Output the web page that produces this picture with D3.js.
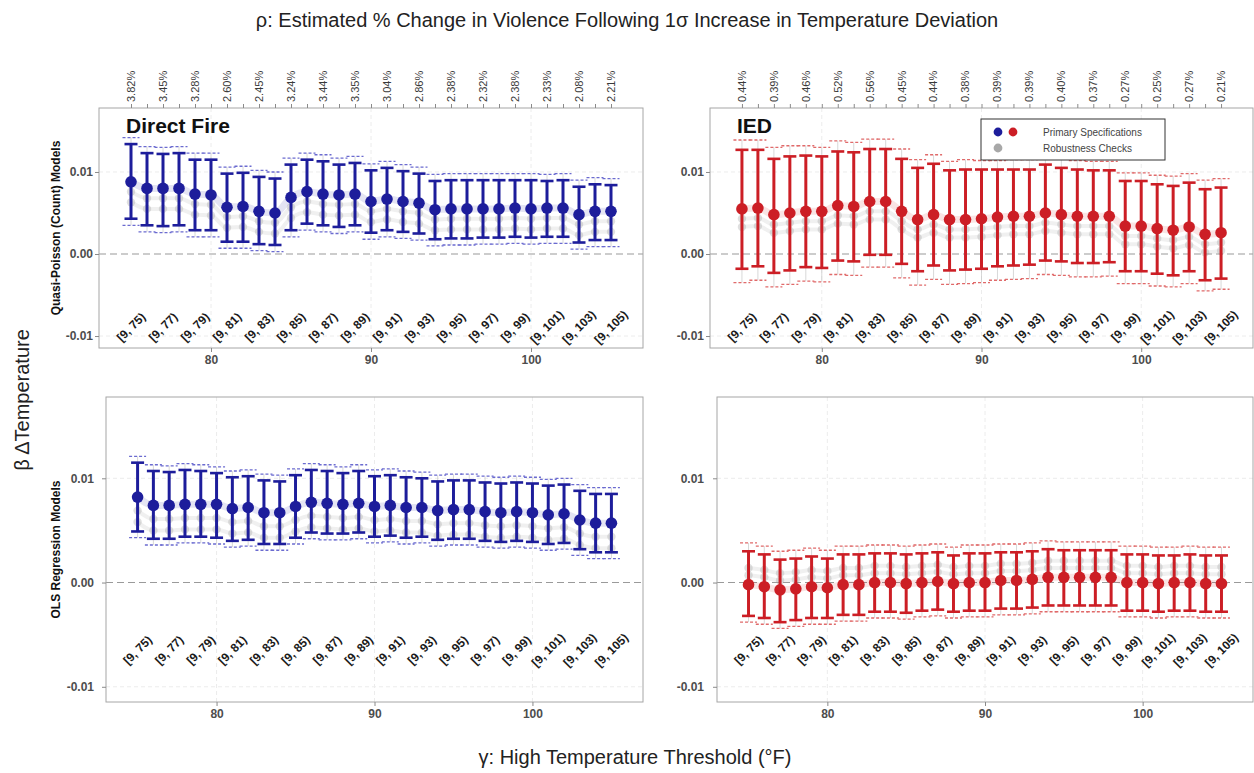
<!DOCTYPE html>
<html>
<head>
<meta charset="utf-8">
<script src="https://cdn.jsdelivr.net/npm/d3@7"></script>
<style>
  body { margin: 0; background: #fff; }
  text { font-family: "Liberation Sans", Arial, sans-serif; }
</style>
</head>
<body>
<svg id="chart" width="1254" height="773"></svg>
<script>
// thresholds (°F) and the bins they label
const thresholds = [75,76,77,78,79,80,81,82,83,84,85,86,87,88,89,90,91,92,93,94,95,96,97,98,99,100,101,102,103,104,105]
const labelThresholds = [75,77,79,81,83,85,87,89,91,93,95,97,99,101,103,105]
const binLabels = ["[9, 75)","[9, 77)","[9, 79)","[9, 81)","[9, 83)","[9, 85)","[9, 87)","[9, 89)","[9, 91)","[9, 93)","[9, 95)","[9, 97)","[9, 99)","[9, 101)","[9, 103)","[9, 105)"]
const rhoDirectFire = ["3.82%","3.45%","3.28%","2.60%","2.45%","3.24%","3.44%","3.35%","3.04%","2.86%","2.38%","2.32%","2.38%","2.33%","2.08%","2.21%"]
const rhoIED = ["0.44%","0.39%","0.46%","0.52%","0.56%","0.45%","0.44%","0.38%","0.39%","0.39%","0.40%","0.37%","0.27%","0.25%","0.27%","0.21%"]
const xTicks = [80, 90, 100]
const yTicks = [-0.01, 0, 0.01]

// Direct Fire, quasi-poisson
const dfQpEst = [0.0088,0.0080,0.0080,0.0080,0.0073,0.0072,0.0057,0.0058,0.0052,0.0050,0.0069,0.0076,0.0073,0.0072,0.0073,0.0064,0.0067,0.0064,0.0062,0.0054,0.0055,0.0055,0.0055,0.0055,0.0056,0.0055,0.0056,0.0056,0.0048,0.0052,0.0052]
const dfQpHi = [0.0134,0.0123,0.0122,0.0123,0.0115,0.0115,0.0098,0.0099,0.0094,0.0092,0.0109,0.0115,0.0113,0.0109,0.0111,0.0102,0.0105,0.0101,0.0098,0.0089,0.0090,0.0090,0.0090,0.0090,0.0090,0.0090,0.0089,0.0090,0.0082,0.0085,0.0084]
const dfQpLo = [0.0043,0.0035,0.0034,0.0035,0.0029,0.0029,0.0015,0.0015,0.0012,0.0011,0.0029,0.0037,0.0035,0.0033,0.0035,0.0026,0.0029,0.0027,0.0025,0.0018,0.0019,0.0019,0.0020,0.0020,0.0021,0.0020,0.0021,0.0021,0.0014,0.0017,0.0017]
const dfQpRobHi = [0.0142,0.0131,0.0130,0.0131,0.0123,0.0123,0.0106,0.0107,0.0102,0.0100,0.0117,0.0123,0.0121,0.0117,0.0119,0.0110,0.0113,0.0109,0.0106,0.0097,0.0098,0.0098,0.0098,0.0098,0.0098,0.0098,0.0097,0.0098,0.0090,0.0093,0.0092]
const dfQpRobLo = [0.0035,0.0027,0.0026,0.0027,0.0021,0.0021,0.0007,0.0007,0.0004,0.0003,0.0021,0.0029,0.0027,0.0025,0.0027,0.0018,0.0021,0.0019,0.0017,0.0010,0.0011,0.0011,0.0012,0.0012,0.0013,0.0012,0.0013,0.0013,0.0006,0.0009,0.0009]
const dfQpRobA = [0.0076,0.0068,0.0068,0.0068,0.0061,0.0060,0.0045,0.0046,0.0040,0.0038,0.0057,0.0064,0.0061,0.0060,0.0061,0.0052,0.0055,0.0052,0.0050,0.0042,0.0043,0.0043,0.0043,0.0043,0.0044,0.0043,0.0044,0.0044,0.0036,0.0040,0.0040]
const dfQpRobB = [0.0063,0.0055,0.0055,0.0055,0.0048,0.0047,0.0032,0.0033,0.0027,0.0025,0.0044,0.0051,0.0048,0.0047,0.0048,0.0039,0.0042,0.0039,0.0037,0.0029,0.0030,0.0030,0.0030,0.0030,0.0031,0.0030,0.0031,0.0031,0.0023,0.0027,0.0027]

// IED, quasi-poisson
const iedQpEst = [0.0055,0.0056,0.0048,0.0050,0.0052,0.0052,0.0059,0.0058,0.0064,0.0064,0.0052,0.0042,0.0048,0.0042,0.0042,0.0043,0.0045,0.0046,0.0046,0.0050,0.0048,0.0046,0.0046,0.0046,0.0034,0.0034,0.0031,0.0029,0.0033,0.0024,0.0026]
const iedQpHi = [0.0127,0.0127,0.0116,0.0119,0.0120,0.0119,0.0125,0.0124,0.0128,0.0128,0.0116,0.0105,0.0110,0.0102,0.0103,0.0103,0.0103,0.0103,0.0103,0.0109,0.0105,0.0103,0.0102,0.0102,0.0089,0.0089,0.0085,0.0083,0.0087,0.0079,0.0081]
const iedQpLo = [-0.0018,-0.0015,-0.0023,-0.0020,-0.0016,-0.0017,-0.0008,-0.0009,-0.0001,-0.0001,-0.0012,-0.0021,-0.0014,-0.0020,-0.0019,-0.0018,-0.0015,-0.0014,-0.0013,-0.0008,-0.0009,-0.0011,-0.0011,-0.0010,-0.0021,-0.0021,-0.0024,-0.0026,-0.0021,-0.0032,-0.0030]
const iedQpRobHi = [0.0139,0.0139,0.0130,0.0132,0.0132,0.0130,0.0138,0.0136,0.0140,0.0140,0.0128,0.0115,0.0121,0.0113,0.0115,0.0114,0.0114,0.0115,0.0115,0.0120,0.0116,0.0114,0.0113,0.0113,0.0099,0.0099,0.0096,0.0095,0.0098,0.0090,0.0092]
const iedQpRobLo = [-0.0035,-0.0032,-0.0040,-0.0037,-0.0033,-0.0034,-0.0025,-0.0026,-0.0016,-0.0016,-0.0029,-0.0038,-0.0031,-0.0037,-0.0036,-0.0035,-0.0032,-0.0031,-0.0030,-0.0025,-0.0026,-0.0028,-0.0028,-0.0027,-0.0036,-0.0036,-0.0039,-0.0040,-0.0036,-0.0045,-0.0043]
const iedQpRobA = [0.0043,0.0044,0.0036,0.0038,0.0040,0.0040,0.0047,0.0046,0.0052,0.0052,0.0040,0.0030,0.0036,0.0030,0.0030,0.0031,0.0033,0.0034,0.0034,0.0038,0.0036,0.0034,0.0034,0.0034,0.0022,0.0022,0.0019,0.0017,0.0021,0.0012,0.0014]
const iedQpRobB = [0.0033,0.0034,0.0026,0.0028,0.0030,0.0030,0.0037,0.0036,0.0042,0.0042,0.0030,0.0020,0.0026,0.0020,0.0020,0.0021,0.0023,0.0024,0.0024,0.0028,0.0026,0.0024,0.0024,0.0024,0.0012,0.0012,0.0009,0.0007,0.0011,0.0002,0.0004]

// Direct Fire, OLS
const dfOlsEst = [0.0082,0.0074,0.0074,0.0075,0.0075,0.0075,0.0071,0.0072,0.0067,0.0067,0.0073,0.0077,0.0076,0.0075,0.0076,0.0073,0.0074,0.0072,0.0072,0.0069,0.0070,0.0070,0.0068,0.0067,0.0068,0.0067,0.0065,0.0066,0.0060,0.0057,0.0057]
const dfOlsHi = [0.0115,0.0107,0.0106,0.0108,0.0107,0.0105,0.0101,0.0102,0.0098,0.0097,0.0103,0.0108,0.0107,0.0105,0.0107,0.0102,0.0103,0.0101,0.0100,0.0097,0.0098,0.0098,0.0096,0.0095,0.0096,0.0095,0.0093,0.0094,0.0088,0.0085,0.0085]
const dfOlsLo = [0.0049,0.0042,0.0042,0.0044,0.0044,0.0043,0.0040,0.0041,0.0037,0.0037,0.0043,0.0048,0.0047,0.0047,0.0048,0.0044,0.0045,0.0043,0.0044,0.0041,0.0042,0.0042,0.0040,0.0039,0.0040,0.0039,0.0037,0.0038,0.0032,0.0029,0.0029]
const dfOlsRobHi = [0.0121,0.0113,0.0112,0.0114,0.0113,0.0111,0.0107,0.0108,0.0104,0.0103,0.0109,0.0114,0.0113,0.0111,0.0113,0.0108,0.0109,0.0107,0.0106,0.0103,0.0104,0.0104,0.0102,0.0101,0.0102,0.0101,0.0099,0.0100,0.0094,0.0091,0.0091]
const dfOlsRobLo = [0.0043,0.0036,0.0036,0.0038,0.0038,0.0037,0.0034,0.0035,0.0031,0.0031,0.0037,0.0042,0.0041,0.0041,0.0042,0.0038,0.0039,0.0037,0.0038,0.0035,0.0036,0.0036,0.0034,0.0033,0.0034,0.0033,0.0031,0.0032,0.0026,0.0023,0.0023]
const dfOlsRobA = [0.0069,0.0061,0.0061,0.0062,0.0062,0.0062,0.0058,0.0059,0.0054,0.0054,0.0060,0.0064,0.0063,0.0062,0.0063,0.0060,0.0061,0.0059,0.0059,0.0056,0.0057,0.0057,0.0055,0.0054,0.0055,0.0054,0.0052,0.0053,0.0047,0.0044,0.0044]
const dfOlsRobB = [0.0058,0.0050,0.0050,0.0051,0.0051,0.0051,0.0047,0.0048,0.0043,0.0043,0.0049,0.0053,0.0052,0.0051,0.0052,0.0049,0.0050,0.0048,0.0048,0.0045,0.0046,0.0046,0.0044,0.0043,0.0044,0.0043,0.0041,0.0042,0.0036,0.0033,0.0033]

// IED, OLS
const iedOlsEst = [-0.0002,-0.0004,-0.0007,-0.0006,-0.0004,-0.0005,-0.0002,-0.0002,0.0000,0.0000,-0.0001,0.0000,0.0001,-0.0001,0.0000,0.0000,0.0002,0.0002,0.0003,0.0005,0.0005,0.0005,0.0005,0.0005,0.0000,0.0000,-0.0001,0.0000,0.0000,-0.0001,-0.0001]
const iedOlsHi = [0.0030,0.0027,0.0022,0.0023,0.0025,0.0023,0.0027,0.0027,0.0028,0.0028,0.0027,0.0028,0.0029,0.0026,0.0028,0.0028,0.0029,0.0029,0.0030,0.0032,0.0031,0.0031,0.0031,0.0031,0.0027,0.0027,0.0026,0.0026,0.0027,0.0026,0.0026]
const iedOlsLo = [-0.0032,-0.0034,-0.0038,-0.0036,-0.0034,-0.0034,-0.0031,-0.0031,-0.0028,-0.0028,-0.0029,-0.0027,-0.0026,-0.0028,-0.0027,-0.0027,-0.0025,-0.0025,-0.0024,-0.0022,-0.0022,-0.0022,-0.0022,-0.0022,-0.0027,-0.0027,-0.0028,-0.0027,-0.0027,-0.0028,-0.0028]
const iedOlsRobHi = [0.0038,0.0035,0.0030,0.0031,0.0033,0.0031,0.0035,0.0035,0.0036,0.0036,0.0035,0.0036,0.0037,0.0034,0.0036,0.0036,0.0037,0.0037,0.0038,0.0040,0.0039,0.0039,0.0039,0.0039,0.0035,0.0035,0.0034,0.0034,0.0035,0.0034,0.0034]
const iedOlsRobLo = [-0.0038,-0.0040,-0.0044,-0.0042,-0.0040,-0.0040,-0.0037,-0.0037,-0.0034,-0.0034,-0.0035,-0.0033,-0.0032,-0.0034,-0.0033,-0.0033,-0.0031,-0.0031,-0.0030,-0.0028,-0.0028,-0.0028,-0.0028,-0.0028,-0.0033,-0.0033,-0.0034,-0.0033,-0.0033,-0.0034,-0.0034]
const iedOlsRobA = [0.0014,0.0012,0.0009,0.0010,0.0012,0.0011,0.0014,0.0014,0.0016,0.0016,0.0015,0.0016,0.0017,0.0015,0.0016,0.0016,0.0018,0.0018,0.0019,0.0021,0.0021,0.0021,0.0021,0.0021,0.0016,0.0016,0.0015,0.0016,0.0016,0.0015,0.0015]
const iedOlsRobB = [0.0007,0.0005,0.0002,0.0003,0.0005,0.0004,0.0007,0.0007,0.0009,0.0009,0.0008,0.0009,0.0010,0.0008,0.0009,0.0009,0.0011,0.0011,0.0012,0.0014,0.0014,0.0014,0.0014,0.0014,0.0009,0.0009,0.0008,0.0009,0.0009,0.0008,0.0008]

const blue = "#1d1d9b"
const red = "#cc1e25"
const blueLight = "#6b6bd0"
const redLight = "#e06a6a"
const axisGray = "#4d4d4d"

const svg = d3.select("#chart")

const panels = [
  {x: 99, y: 108, w: 544, h: 240, pad: 2, color: blue, light: blueLight, title: "Direct Fire", rho: rhoDirectFire, row: "Quasi-Poisson (Count) Models",
   est: dfQpEst, hi: dfQpHi, lo: dfQpLo, robHi: dfQpRobHi, robLo: dfQpRobLo, robA: dfQpRobA, robB: dfQpRobB, labelOff: 21},
  {x: 710, y: 108, w: 543, h: 240, pad: 2, color: red, light: redLight, title: "IED", rho: rhoIED, legend: true,
   est: iedQpEst, hi: iedQpHi, lo: iedQpLo, robHi: iedQpRobHi, robLo: iedQpRobLo, robA: iedQpRobA, robB: iedQpRobB, labelOff: 21},
  {x: 106, y: 397, w: 537, h: 305, pad: 8, color: blue, light: blueLight, row: "OLS Regression Models",
   est: dfOlsEst, hi: dfOlsHi, lo: dfOlsLo, robHi: dfOlsRobHi, robLo: dfOlsRobLo, robA: dfOlsRobA, robB: dfOlsRobB, labelOff: 52},
  {x: 717, y: 397, w: 536, h: 305, pad: 9, color: red, light: redLight,
   est: iedOlsEst, hi: iedOlsHi, lo: iedOlsLo, robHi: iedOlsRobHi, robLo: iedOlsRobLo, robA: iedOlsRobA, robB: iedOlsRobB, labelOff: 52},
]

const yFmt = d => d3.format(".2f")(d).replace("\u2212", "-")

panels.forEach(p => {
  const x = d3.scaleLinear().domain([73, 107]).range([p.x, p.x + p.w])
  const y = d3.scaleLinear().domain([-0.01146, 0.0178]).range([p.y + p.h, p.y])
  const rows = thresholds.map((t, i) => ({
    t, est: p.est[i], hi: p.hi[i], lo: p.lo[i], robHi: p.robHi[i], robLo: p.robLo[i], robA: p.robA[i], robB: p.robB[i]
  }))
  const g = svg.append("g")

  g.append("rect")
    .attr("x", p.x).attr("y", p.y).attr("width", p.w).attr("height", p.h)
    .attr("fill", "#fff")

  // faint grid
  g.append("g").selectAll("line.vg").data(xTicks).enter().append("line")
    .attr("x1", d => x(d)).attr("x2", d => x(d))
    .attr("y1", p.y).attr("y2", p.y + p.h)
    .attr("stroke", "#ececec").attr("stroke-dasharray", "4,3")
  g.append("g").selectAll("line.hg").data(yTicks.filter(d => d !== 0)).enter().append("line")
    .attr("x1", p.x).attr("x2", p.x + p.w)
    .attr("y1", d => y(d)).attr("y2", d => y(d))
    .attr("stroke", "#ececec").attr("stroke-dasharray", "4,3")

  // zero line
  g.append("line")
    .attr("x1", p.x).attr("x2", p.x + p.w)
    .attr("y1", y(0)).attr("y2", y(0))
    .attr("stroke", "#9a9a9a").attr("stroke-width", 1.1).attr("stroke-dasharray", "7,4")

  // robustness checks
  g.append("g").selectAll("line").data(rows).enter().append("line")
    .attr("x1", d => x(d.t)).attr("x2", d => x(d.t))
    .attr("y1", d => y(d.robLo)).attr("y2", d => y(d.robHi))
    .attr("stroke", "#c8c8c8").attr("stroke-width", 1).attr("opacity", 0.7)
  ;["robA", "robB"].forEach(k => {
    g.append("path").datum(rows)
      .attr("d", d3.line().x(d => x(d.t)).y(d => y(d[k])).curve(d3.curveMonotoneX))
      .attr("fill", "none").attr("stroke", "#b5b5b5").attr("stroke-width", 4).attr("opacity", 0.2)
    g.append("g").selectAll("circle").data(rows).enter().append("circle")
      .attr("cx", d => x(d.t)).attr("cy", d => y(d[k])).attr("r", 4.2)
      .attr("fill", "#9a9a9a").attr("opacity", 0.32)
  })
  ;["robHi", "robLo"].forEach(k => {
    g.append("g").selectAll("line").data(rows).enter().append("line")
      .attr("x1", d => x(d.t) - 8.5).attr("x2", d => x(d.t) + 8.5)
      .attr("y1", d => y(d[k])).attr("y2", d => y(d[k]))
      .attr("stroke", p.light).attr("stroke-width", 1.3).attr("stroke-dasharray", "3,2")
  })

  // smoothed primary trace
  g.append("path").datum(rows)
    .attr("d", d3.line().x(d => x(d.t)).y(d => y(d.est)).curve(d3.curveMonotoneX))
    .attr("fill", "none").attr("stroke", p.color).attr("stroke-width", 7).attr("opacity", 0.12)

  // primary error bars
  const eb = g.append("g").selectAll("g").data(rows).enter().append("g")
  eb.append("line")
    .attr("x1", d => x(d.t)).attr("x2", d => x(d.t))
    .attr("y1", d => y(d.lo)).attr("y2", d => y(d.hi))
    .attr("stroke", p.color).attr("stroke-width", 3)
  ;["hi", "lo"].forEach(k => {
    eb.append("line")
      .attr("x1", d => x(d.t) - 6.5).attr("x2", d => x(d.t) + 6.5)
      .attr("y1", d => y(d[k])).attr("y2", d => y(d[k]))
      .attr("stroke", p.color).attr("stroke-width", 2.6)
  })
  eb.append("circle")
    .attr("cx", d => x(d.t)).attr("cy", d => y(d.est)).attr("r", 5.8)
    .attr("fill", p.color)

  // bin labels
  g.append("g").selectAll("text").data(labelThresholds).enter().append("text")
    .attr("transform", d => `translate(${x(d)},${p.y + p.h - p.labelOff}) rotate(-45)`)
    .attr("text-anchor", "middle").attr("dy", "0.35em")
    .attr("font-size", 12).attr("font-weight", "bold").attr("fill", "#1a1a1a")
    .text((d, i) => binLabels[i])

  // border
  g.append("rect")
    .attr("x", p.x).attr("y", p.y).attr("width", p.w).attr("height", p.h)
    .attr("fill", "none").attr("stroke", "#a6a6a6").attr("stroke-width", 1)

  // axes
  const yAxis = g.append("g").attr("transform", `translate(${p.x},0)`)
    .call(d3.axisLeft(y).tickValues(yTicks).tickFormat(yFmt).tickSize(4).tickPadding(p.pad))
  const xAxis = g.append("g").attr("transform", `translate(0,${p.y + p.h})`)
    .call(d3.axisBottom(x).tickValues(xTicks).tickSize(4).tickPadding(3))
  ;[yAxis, xAxis].forEach(a => {
    a.select(".domain").remove()
    a.selectAll("line").attr("stroke", "#8a8a8a")
    a.selectAll("text").attr("font-size", 12).attr("font-weight", "bold").attr("fill", axisGray)
      .attr("font-family", "Liberation Sans, Arial, sans-serif")
  })

  if (p.rho) {
    const top = g.append("g").attr("transform", `translate(0,${p.y})`)
      .call(d3.axisTop(x).tickValues(thresholds).tickFormat("").tickSize(4))
    top.select(".domain").remove()
    top.selectAll("line").attr("stroke", "#8a8a8a")
    g.append("g").selectAll("text").data(labelThresholds).enter().append("text")
      .attr("transform", d => `translate(${x(d)},${p.y - 6}) rotate(-90)`)
      .attr("dy", "0.35em").attr("text-anchor", "start")
      .attr("font-size", 11).attr("fill", "#3a3a3a")
      .text((d, i) => p.rho[i])
  }

  if (p.title) {
    g.append("text").attr("x", p.x + 27).attr("y", p.y + 25)
      .attr("font-size", 21).attr("font-weight", "bold").attr("fill", "#111")
      .text(p.title)
  }

  if (p.row) {
    g.append("text")
      .attr("transform", `translate(${56},${p.y + p.h / 2}) rotate(-90)`)
      .attr("text-anchor", "middle").attr("dy", "0.35em")
      .attr("font-size", 12).attr("font-weight", "bold").attr("fill", "#111")
      .text(p.row)
  }

  if (p.legend) {
    const lg = g.append("g").attr("transform", "translate(981,119)")
    lg.append("rect").attr("width", 184).attr("height", 41)
      .attr("fill", "#fff").attr("stroke", "#333").attr("stroke-width", 1)
    const items = [
      {colors: [blue, red], label: "Primary Specifications", y: 13},
      {colors: ["#a8a8a8"], label: "Robustness Checks", y: 29},
    ]
    items.forEach(it => {
      lg.append("g").selectAll("circle").data(it.colors).enter().append("circle")
        .attr("cx", (c, i) => 17 + i * 15).attr("cy", it.y).attr("r", 4.4).attr("fill", c => c)
      lg.append("text").attr("x", 62).attr("y", it.y).attr("dy", "0.35em")
        .attr("font-size", 10).attr("fill", "#444").text(it.label)
    })
  }
})

// overall titles
svg.append("text").attr("x", 627).attr("y", 27).attr("text-anchor", "middle")
  .attr("font-size", 20).attr("fill", "#222")
  .text("ρ: Estimated % Change in Violence Following 1σ Increase in Temperature Deviation")
svg.append("text").attr("x", 635).attr("y", 764).attr("text-anchor", "middle")
  .attr("font-size", 20).attr("fill", "#222")
  .text("γ: High Temperature Threshold (°F)")
svg.append("text").attr("transform", "translate(29,400) rotate(-90)").attr("text-anchor", "middle")
  .attr("font-size", 20).attr("fill", "#222")
  .text("β ΔTemperature")
</script>
</body>
</html>
